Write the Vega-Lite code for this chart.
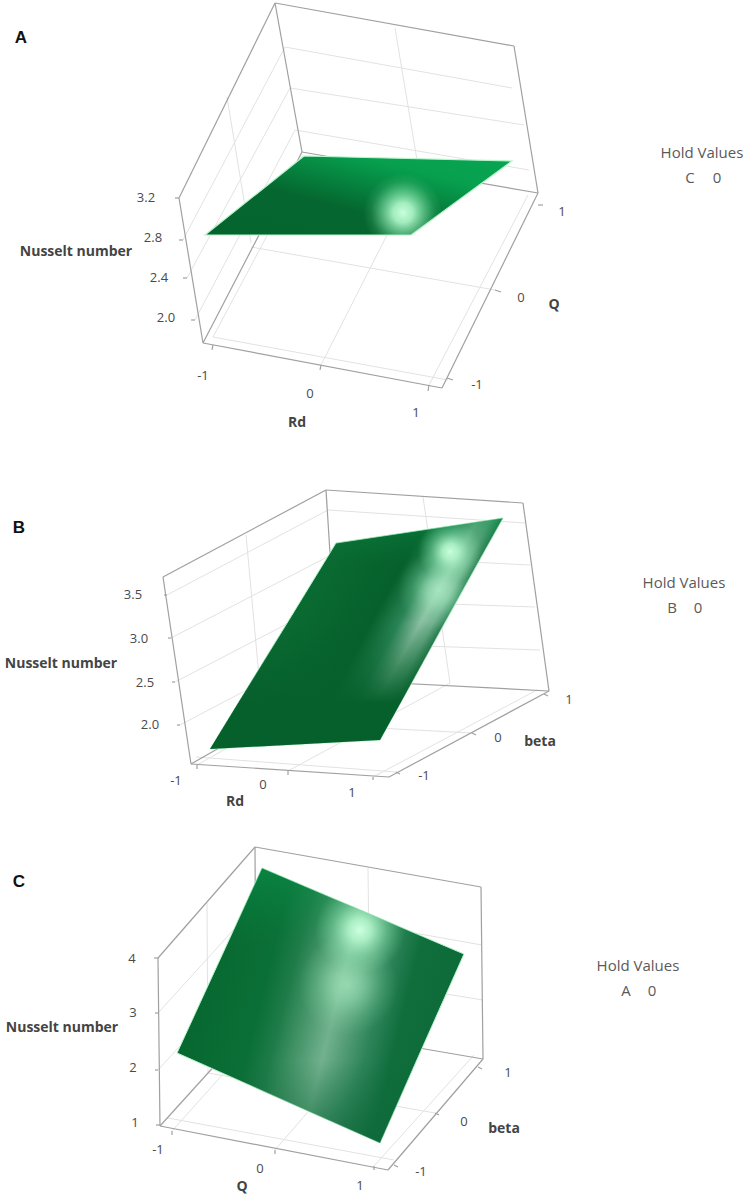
{
"$schema":"https://vega.github.io/schema/vega-lite/v6.json",
"autosize":{"type":"fit","contains":"padding"},
"width":754,"height":1202,"padding":0,"background":"#ffffff",
"config":{"view":{"stroke":null}},
"datasets":{
"grid":[
{"x":395,"y":28,"x2":419,"y2":172},{"x":285,"y":47,"x2":512,"y2":88},{"x":290,"y":88,"x2":524,"y2":125},{"x":295,"y":130,"x2":529,"y2":170},
{"x":227,"y":97,"x2":251,"y2":243},{"x":183,"y":240,"x2":285,"y2":47},{"x":187,"y":278,"x2":290,"y2":88},{"x":195,"y":320,"x2":295,"y2":130},
{"x":251,"y":247,"x2":495,"y2":290},{"x":321,"y":365,"x2":419,"y2":172},{"x":213,"y":337,"x2":448,"y2":380},{"x":213,"y":337,"x2":310,"y2":155},{"x":429,"y":385,"x2":528,"y2":195},
{"x":423,"y":497,"x2":450,"y2":683},{"x":328,"y":510,"x2":525,"y2":523},{"x":331,"y":555,"x2":530,"y2":565},{"x":333,"y":600,"x2":535,"y2":607},{"x":336,"y":643,"x2":540,"y2":650},
{"x":246,"y":535,"x2":263,"y2":720},{"x":167,"y":595,"x2":328,"y2":510},{"x":171,"y":638,"x2":331,"y2":555},{"x":175,"y":682,"x2":333,"y2":600},{"x":180,"y":725,"x2":336,"y2":643},
{"x":288,"y":771,"x2":450,"y2":683},{"x":263,"y":722,"x2":472,"y2":733},{"x":197,"y":765,"x2":345,"y2":682},{"x":196,"y":757,"x2":396,"y2":772},{"x":373,"y":777,"x2":537,"y2":690},
{"x":368,"y":868,"x2":370,"y2":1040},{"x":256,"y":905,"x2":482,"y2":945},{"x":256,"y":963,"x2":483,"y2":1000},
{"x":207,"y":903,"x2":208,"y2":1073},{"x":158,"y":1013,"x2":256,"y2":905},{"x":158,"y":1070,"x2":256,"y2":963},
{"x":275,"y":1150,"x2":370,"y2":1040},{"x":208,"y":1073,"x2":435,"y2":1113},{"x":172,"y":1131,"x2":268,"y2":1024},{"x":168,"y":1118,"x2":394,"y2":1160},{"x":374,"y":1166,"x2":474,"y2":1055}
],
"frame":[
{"x":275,"y":3,"x2":514,"y2":46},{"x":275,"y":3,"x2":179,"y2":198},{"x":275,"y":3,"x2":302,"y2":152},{"x":514,"y":46,"x2":538,"y2":193},{"x":179,"y":198,"x2":203,"y2":343},{"x":203,"y":343,"x2":442,"y2":388},{"x":442,"y":388,"x2":538,"y2":193},{"x":203,"y":343,"x2":302,"y2":152},{"x":302,"y":152,"x2":538,"y2":193},
{"x":179,"y":198,"x2":175,"y2":198},{"x":183,"y":240,"x2":179,"y2":240},{"x":187,"y":278,"x2":183,"y2":278},{"x":195,"y":320,"x2":191,"y2":320},{"x":213,"y":345,"x2":212,"y2":350},{"x":321,"y":365,"x2":320,"y2":370},{"x":429,"y":385,"x2":428,"y2":391},{"x":447,"y":378,"x2":453,"y2":380},{"x":495,"y":290,"x2":501,"y2":292},{"x":538,"y":205,"x2":543,"y2":205},
{"x":326,"y":490,"x2":523,"y2":503},{"x":326,"y":490,"x2":163,"y2":577},{"x":326,"y":490,"x2":338,"y2":680},{"x":523,"y":503,"x2":549,"y2":691},{"x":163,"y":577,"x2":191,"y2":764},{"x":191,"y":764,"x2":389,"y2":777},{"x":389,"y":777,"x2":549,"y2":691},{"x":191,"y":764,"x2":338,"y2":680},{"x":338,"y":680,"x2":549,"y2":691},
{"x":167,"y":595,"x2":164,"y2":595},{"x":171,"y":638,"x2":168,"y2":638},{"x":175,"y":682,"x2":172,"y2":682},{"x":180,"y":725,"x2":177,"y2":725},{"x":197,"y":765,"x2":197,"y2":769},{"x":288,"y":771,"x2":288,"y2":775},{"x":373,"y":777,"x2":373,"y2":780},{"x":396,"y":772,"x2":400,"y2":774},{"x":472,"y":733,"x2":476,"y2":735},{"x":544,"y":694,"x2":548,"y2":696},
{"x":255,"y":847,"x2":481,"y2":887},{"x":255,"y":847,"x2":158,"y2":958},{"x":255,"y":847,"x2":256,"y2":1020},{"x":481,"y":887,"x2":483,"y2":1059},{"x":158,"y":958,"x2":160,"y2":1126},{"x":160,"y":1126,"x2":388,"y2":1170},{"x":388,"y":1170,"x2":483,"y2":1059},{"x":160,"y":1126,"x2":256,"y2":1020},{"x":256,"y":1020,"x2":483,"y2":1059},
{"x":158,"y":958,"x2":154,"y2":958},{"x":158,"y":1013,"x2":155,"y2":1013},{"x":158,"y":1070,"x2":155,"y2":1070},{"x":160,"y":1125,"x2":156,"y2":1125},{"x":172,"y":1131,"x2":172,"y2":1135},{"x":275,"y":1150,"x2":275,"y2":1154},{"x":374,"y":1166,"x2":374,"y2":1170},{"x":394,"y":1165,"x2":398,"y2":1167},{"x":435,"y":1113,"x2":439,"y2":1115},{"x":478,"y":1067,"x2":482,"y2":1069}
],
"surfaces":[
{"s":"A","o":1,"x":304,"y":156},{"s":"A","o":2,"x":512,"y":161},{"s":"A","o":3,"x":411,"y":235},{"s":"A","o":4,"x":205,"y":235},{"s":"A","o":5,"x":304,"y":156},
{"s":"Ah","o":1,"x":360,"y":170},{"s":"Ah","o":2,"x":446,"y":170},{"s":"Ah","o":3,"x":446,"y":210},{"s":"Ah","o":4,"x":411,"y":235},{"s":"Ah","o":5,"x":360,"y":235},{"s":"Ah","o":6,"x":360,"y":170},
{"s":"B","o":1,"x":336,"y":543},{"s":"B","o":2,"x":503,"y":518},{"s":"B","o":3,"x":380,"y":740},{"s":"B","o":4,"x":210,"y":749},{"s":"B","o":5,"x":336,"y":543},
{"s":"Bh","o":1,"x":418,"y":531},{"s":"Bh","o":2,"x":482,"y":521},{"s":"Bh","o":3,"x":482,"y":556},{"s":"Bh","o":4,"x":467,"y":582},{"s":"Bh","o":5,"x":418,"y":582},{"s":"Bh","o":6,"x":418,"y":531},
{"s":"Bi","o":1,"x":398,"y":550},{"s":"Bi","o":2,"x":478,"y":550},{"s":"Bi","o":3,"x":478,"y":563},{"s":"Bi","o":4,"x":441,"y":630},{"s":"Bi","o":5,"x":398,"y":630},{"s":"Bi","o":6,"x":398,"y":550},
{"s":"C","o":1,"x":262,"y":868},{"s":"C","o":2,"x":464,"y":954},{"s":"C","o":3,"x":380,"y":1143},{"s":"C","o":4,"x":177,"y":1053},{"s":"C","o":5,"x":262,"y":868},
{"s":"Ch","o":1,"x":315,"y":891},{"s":"Ch","o":2,"x":405,"y":929},{"s":"Ch","o":3,"x":405,"y":975},{"s":"Ch","o":4,"x":315,"y":975},{"s":"Ch","o":5,"x":315,"y":891},
{"s":"Ci","o":1,"x":298,"y":935},{"s":"Ci","o":2,"x":398,"y":935},{"s":"Ci","o":3,"x":398,"y":1035},{"s":"Ci","o":4,"x":298,"y":1035},{"s":"Ci","o":5,"x":298,"y":935}
],
"labels":[
{"t":"3.2","x":146,"y":198},{"t":"2.8","x":153,"y":238},{"t":"2.4","x":159,"y":278},{"t":"2.0","x":166,"y":318},{"t":"-1","x":203,"y":376},{"t":"0","x":310,"y":394},{"t":"1","x":416,"y":413},{"t":"-1","x":477,"y":385},{"t":"0","x":521,"y":298},{"t":"1","x":562,"y":212},
{"t":"3.5","x":133,"y":595},{"t":"3.0","x":139,"y":639},{"t":"2.5","x":145,"y":683},{"t":"2.0","x":150,"y":725},{"t":"-1","x":176,"y":781},{"t":"0","x":263,"y":785},{"t":"1","x":352,"y":793},{"t":"-1","x":424,"y":776},{"t":"0","x":498,"y":738},{"t":"1","x":569,"y":700},
{"t":"4","x":132,"y":959},{"t":"3","x":133,"y":1013},{"t":"2","x":133,"y":1068},{"t":"1","x":135,"y":1123},{"t":"-1","x":158,"y":1150},{"t":"0","x":260,"y":1169},{"t":"1","x":360,"y":1186},{"t":"-1","x":421,"y":1172},{"t":"0","x":464,"y":1122},{"t":"1","x":508,"y":1073}
],
"hold":[
{"t":"Hold Values","x":702,"y":153},{"t":"C","x":690,"y":178},{"t":"0","x":717,"y":178},
{"t":"Hold Values","x":684,"y":583},{"t":"B","x":672,"y":608},{"t":"0","x":698,"y":608},
{"t":"Hold Values","x":638,"y":966},{"t":"A","x":626,"y":991},{"t":"0","x":652,"y":991}
],
"titles":[
{"t":"Nusselt number","x":76,"y":252},{"t":"Rd","x":297,"y":423},{"t":"Q","x":554,"y":305},
{"t":"Nusselt number","x":61,"y":664},{"t":"Rd","x":235,"y":802},{"t":"beta","x":540,"y":742},
{"t":"Nusselt number","x":62,"y":1028},{"t":"Q","x":242,"y":1187},{"t":"beta","x":504,"y":1129}
],
"panels":[{"t":"A","x":21,"y":38},{"t":"B","x":19,"y":528},{"t":"C","x":19,"y":882}]
},
"encoding":{
"x":{"field":"x","type":"quantitative","axis":null,"scale":{"domain":[0,754],"nice":false,"zero":false}},
"y":{"field":"y","type":"quantitative","axis":null,"scale":{"domain":[1202,0],"nice":false,"zero":false}}
},
"layer":[
{"data":{"name":"grid"},"mark":{"type":"rule","stroke":"#e2e2e2","strokeWidth":1},"encoding":{"x2":{"field":"x2"},"y2":{"field":"y2"}}},
{"data":{"name":"frame"},"mark":{"type":"rule","stroke":"#a0a0a0","strokeWidth":1.2},"encoding":{"x2":{"field":"x2"},"y2":{"field":"y2"}}},
{"data":{"name":"surfaces"},"transform":[{"filter":"datum.s==='A'"}],
 "mark":{"type":"line","filled":true,"stroke":"#b8f4cc","strokeWidth":1.2,"fill":{"gradient":"linear","x1":0,"y1":1,"x2":1,"y2":0,"stops":[{"offset":0,"color":"#04642e"},{"offset":0.4,"color":"#05672f"},{"offset":0.75,"color":"#07a04f"},{"offset":1,"color":"#08a552"}]}},
 "encoding":{"order":{"field":"o"}}},
{"data":{"name":"surfaces"},"transform":[{"filter":"datum.s==='Ah'"}],
 "mark":{"type":"line","filled":true,"strokeWidth":0,"fill":{"gradient":"radial","x1":0.5,"y1":0.62,"r1":0,"x2":0.5,"y2":0.62,"r2":0.46,"stops":[{"offset":0,"color":"rgba(200,255,220,1)"},{"offset":0.25,"color":"rgba(180,250,205,0.9)"},{"offset":0.55,"color":"rgba(150,240,185,0.5)"},{"offset":0.8,"color":"rgba(130,230,170,0.15)"},{"offset":1,"color":"rgba(120,220,160,0)"}]}},
 "encoding":{"order":{"field":"o"}}},
{"data":{"name":"surfaces"},"transform":[{"filter":"datum.s==='B'"}],
 "mark":{"type":"line","filled":true,"stroke":"#b8f4cc","strokeWidth":1,"fill":{"gradient":"linear","x1":0.367,"y1":0.159,"x2":0.841,"y2":0.365,"stops":[{"offset":0,"color":"#0a6c32"},{"offset":0.55,"color":"#06602b"},{"offset":0.72,"color":"#2a8456"},{"offset":0.85,"color":"#8cc0a4"},{"offset":0.93,"color":"#6fae8c"},{"offset":1,"color":"#2a7f52"}]}},
 "encoding":{"order":{"field":"o"}}},
{"data":{"name":"surfaces"},"transform":[{"filter":"datum.s==='B'"}],
 "mark":{"type":"line","filled":true,"strokeWidth":0,"fill":{"gradient":"linear","x1":0,"y1":0,"x2":0,"y2":1,"stops":[{"offset":0,"color":"rgba(8,140,70,0.55)"},{"offset":0.2,"color":"rgba(8,120,60,0)"},{"offset":0.45,"color":"rgba(6,96,44,0)"},{"offset":0.8,"color":"rgba(6,96,44,1)"},{"offset":1,"color":"rgba(6,96,44,1)"}]}},
 "encoding":{"order":{"field":"o"}}},
{"data":{"name":"surfaces"},"transform":[{"filter":"datum.s==='Bi'"}],
 "mark":{"type":"line","filled":true,"strokeWidth":0,"fill":{"gradient":"radial","x1":0.5,"y1":0.5,"r1":0,"x2":0.5,"y2":0.5,"r2":0.5,"stops":[{"offset":0,"color":"rgba(180,245,205,0.7)"},{"offset":0.3,"color":"rgba(170,240,198,0.55)"},{"offset":0.65,"color":"rgba(150,230,180,0.2)"},{"offset":1,"color":"rgba(130,220,165,0)"}]}},
 "encoding":{"order":{"field":"o"}}},
{"data":{"name":"surfaces"},"transform":[{"filter":"datum.s==='Bh'"}],
 "mark":{"type":"line","filled":true,"strokeWidth":0,"fill":{"gradient":"radial","x1":0.5,"y1":0.5,"r1":0,"x2":0.5,"y2":0.5,"r2":0.5,"stops":[{"offset":0,"color":"rgba(200,255,220,1)"},{"offset":0.25,"color":"rgba(185,250,208,0.85)"},{"offset":0.6,"color":"rgba(150,235,185,0.4)"},{"offset":1,"color":"rgba(120,220,160,0)"}]}},
 "encoding":{"order":{"field":"o"}}},
{"data":{"name":"surfaces"},"transform":[{"filter":"datum.s==='C'"}],
 "mark":{"type":"line","filled":true,"stroke":"#b8f4cc","strokeWidth":1,"fill":{"gradient":"linear","x1":0,"y1":0.38,"x2":1,"y2":0.62,"stops":[{"offset":0,"color":"#06662e"},{"offset":0.3,"color":"#0a6f36"},{"offset":0.38,"color":"#1f7c49"},{"offset":0.55,"color":"#72b18e"},{"offset":0.69,"color":"#2e8459"},{"offset":0.78,"color":"#0f6e3c"},{"offset":1,"color":"#0b6a37"}]}},
 "encoding":{"order":{"field":"o"}}},
{"data":{"name":"surfaces"},"transform":[{"filter":"datum.s==='C'"}],
 "mark":{"type":"line","filled":true,"strokeWidth":0,"fill":{"gradient":"linear","x1":0,"y1":0,"x2":0,"y2":1,"stops":[{"offset":0,"color":"rgba(10,150,75,0.55)"},{"offset":0.3,"color":"rgba(10,130,65,0)"},{"offset":0.7,"color":"rgba(15,105,58,0)"},{"offset":1,"color":"rgba(15,105,58,0.75)"}]}},
 "encoding":{"order":{"field":"o"}}},
{"data":{"name":"surfaces"},"transform":[{"filter":"datum.s==='Ci'"}],
 "mark":{"type":"line","filled":true,"strokeWidth":0,"fill":{"gradient":"radial","x1":0.5,"y1":0.5,"r1":0,"x2":0.5,"y2":0.5,"r2":0.5,"stops":[{"offset":0,"color":"rgba(175,240,200,0.65)"},{"offset":0.3,"color":"rgba(165,235,192,0.5)"},{"offset":0.65,"color":"rgba(150,230,180,0.2)"},{"offset":1,"color":"rgba(130,220,165,0)"}]}},
 "encoding":{"order":{"field":"o"}}},
{"data":{"name":"surfaces"},"transform":[{"filter":"datum.s==='Ch'"}],
 "mark":{"type":"line","filled":true,"strokeWidth":0,"fill":{"gradient":"radial","x1":0.5,"y1":0.467,"r1":0,"x2":0.5,"y2":0.467,"r2":0.5,"stops":[{"offset":0,"color":"rgba(205,255,225,1)"},{"offset":0.25,"color":"rgba(185,250,208,0.85)"},{"offset":0.6,"color":"rgba(150,235,185,0.4)"},{"offset":1,"color":"rgba(120,220,160,0)"}]}},
 "encoding":{"order":{"field":"o"}}},
{"data":{"name":"labels"},"mark":{"type":"text","font":"Open Sans","fontSize":13,"fill":"#4a4a4a","align":"center","baseline":"middle"},"encoding":{"text":{"field":"t"}}},
{"data":{"name":"hold"},"mark":{"type":"text","font":"Open Sans","fontSize":15,"fill":"#5a5a5a","align":"center","baseline":"middle"},"encoding":{"text":{"field":"t"}}},
{"data":{"name":"titles"},"mark":{"type":"text","font":"Open Sans","fontSize":14,"fontWeight":"bold","fill":"#444444","align":"center","baseline":"middle"},"encoding":{"text":{"field":"t"}}},
{"data":{"name":"panels"},"mark":{"type":"text","font":"Liberation Sans","fontSize":17,"fontWeight":"bold","fill":"#111111","align":"center","baseline":"middle"},"encoding":{"text":{"field":"t"}}}
]
}
